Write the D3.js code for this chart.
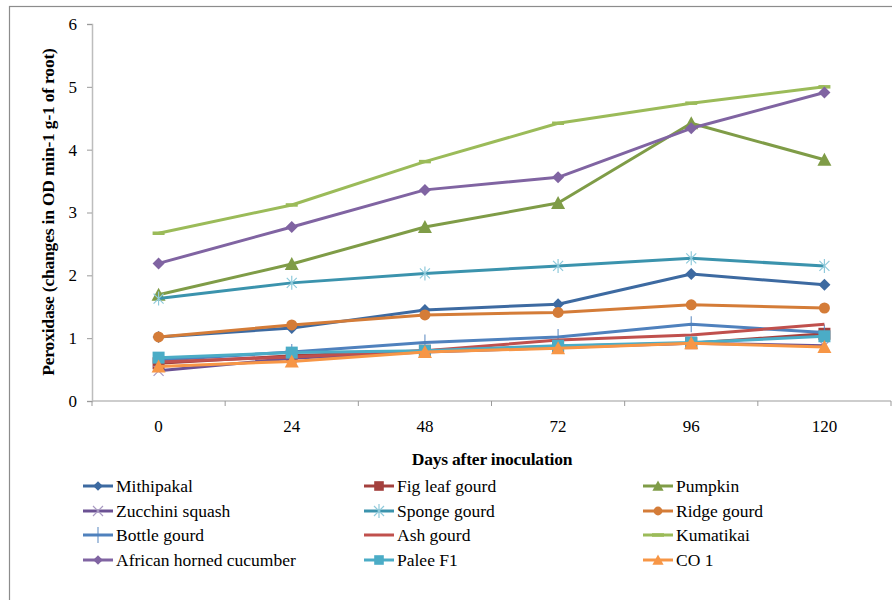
<!DOCTYPE html>
<html>
<head>
<meta charset="utf-8">
<script src="https://cdn.jsdelivr.net/npm/d3@7"></script>
<style>
  html, body { margin: 0; padding: 0; background: #fff; }
  svg { display: block; }
</style>
</head>
<body>
<svg id="chart" width="892" height="600"></svg>
<script>
// Days after inoculation (x categories)
const days = ["0", "24", "48", "72", "96", "120"];
const yTicks = [0, 1, 2, 3, 4, 5, 6];

// Peroxidase activity per cultivar
const mithipakal = [1.02, 1.16, 1.45, 1.54, 2.02, 1.85];
const figLeafGourd = [0.60, 0.72, 0.80, 0.87, 0.92, 1.07];
const pumpkin = [1.69, 2.18, 2.77, 3.15, 4.42, 3.84];
const zucchiniSquash = [0.48, 0.68, 0.78, 0.85, 0.92, 0.88];
const spongeGourd = [1.63, 1.88, 2.03, 2.15, 2.27, 2.15];
const ridgeGourd = [1.02, 1.21, 1.37, 1.41, 1.53, 1.48];
const bottleGourd = [0.65, 0.78, 0.93, 1.02, 1.22, 1.09];
const ashGourd = [0.62, 0.70, 0.80, 0.97, 1.05, 1.22];
const kumatikai = [2.67, 3.12, 3.81, 4.42, 4.74, 5.00];
const africanHornedCucumber = [2.19, 2.77, 3.36, 3.56, 4.34, 4.91];
const paleeF1 = [0.69, 0.77, 0.80, 0.88, 0.93, 1.03];
const co1 = [0.55, 0.63, 0.78, 0.84, 0.92, 0.86];

const seriesNames = ["Mithipakal", "Fig leaf gourd", "Pumpkin", "Zucchini squash",
  "Sponge gourd", "Ridge gourd", "Bottle gourd", "Ash gourd", "Kumatikai",
  "African horned cucumber", "Palee F1", "CO 1"];
const seriesValues = [mithipakal, figLeafGourd, pumpkin, zucchiniSquash, spongeGourd,
  ridgeGourd, bottleGourd, ashGourd, kumatikai, africanHornedCucumber, paleeF1, co1];
const seriesColors = ["#3d6aa1", "#a4403d", "#7f9c47", "#6b5193", "#3b93ad", "#d47c38",
  "#4f81bd", "#c0504d", "#9bbb59", "#8064a2", "#4bacc6", "#f79646"];
const seriesMarkers = ["diamond", "square", "triangle", "x", "star", "circle",
  "plus", "none", "dash", "diamond", "square", "triangle"];

const series = seriesNames.map((name, i) => ({
  name, values: seriesValues[i], color: seriesColors[i], marker: seriesMarkers[i]
}));

const svg = d3.select("#chart");
const font = "Liberation Serif";

// outer chart frame
svg.append("rect").attr("x", 9.5).attr("y", 6.5).attr("width", 900).attr("height", 610)
  .attr("fill", "none").attr("stroke", "#8c8c8c").attr("stroke-width", 1.2);

const plotLeft = 92, plotRight = 891, plotTop = 24, plotBottom = 401;

const x = d3.scaleBand().domain(days).range([plotLeft, plotRight]).padding(0);
const y = d3.scaleLinear().domain([0, 6]).range([plotBottom, plotTop]);

// y axis
const yAxis = svg.append("g").attr("transform", `translate(${plotLeft},0)`)
  .call(d3.axisLeft(y).tickValues(yTicks).tickSize(5).tickPadding(10).tickFormat(d3.format("d")));
yAxis.attr("font-family", font);
yAxis.select(".domain").attr("stroke", "#bdbdbd").attr("stroke-width", 1.5);
yAxis.selectAll(".tick line").attr("stroke", "#9a9a9a");
yAxis.selectAll("text").attr("font-family", font).attr("font-size", 17).attr("fill", "#000");

// x axis with ticks on category boundaries
const xAxisG = svg.append("g").attr("transform", `translate(0,${plotBottom})`);
xAxisG.append("line").attr("x1", plotLeft).attr("x2", plotRight).attr("y1", 0).attr("y2", 0)
  .attr("stroke", "#bdbdbd").attr("stroke-width", 1.5);
const boundaries = days.map(d => x(d)).concat([x(days[days.length - 1]) + x.bandwidth()]);
xAxisG.selectAll("line.b").data(boundaries).join("line").attr("class", "b")
  .attr("x1", d => d).attr("x2", d => d).attr("y1", 0).attr("y2", 5)
  .attr("stroke", "#9a9a9a");
xAxisG.selectAll("text").data(days).join("text")
  .attr("x", d => x(d) + x.bandwidth() / 2).attr("y", 31)
  .attr("text-anchor", "middle").attr("font-family", font).attr("font-size", 17)
  .text(d => d);

// axis titles
svg.append("text").attr("x", 492).attr("y", 465).attr("text-anchor", "middle")
  .attr("font-family", font).attr("font-size", 17.5).attr("font-weight", "bold")
  .attr("letter-spacing", -0.2)
  .text("Days after inoculation");
svg.append("text").attr("transform", "translate(54,212) rotate(-90)")
  .attr("text-anchor", "middle").attr("font-family", font).attr("font-size", 17.5)
  .attr("font-weight", "bold").attr("letter-spacing", -0.2)
  .text("Peroxidase (changes in OD min-1 g-1 of root)");

function drawMarker(g, type, color, cx, cy, scale) {
  const s = scale || 1;
  switch (type) {
    case "diamond":
      g.append("path").attr("d", `M${cx},${cy - 6 * s}L${cx + 6 * s},${cy}L${cx},${cy + 6 * s}L${cx - 6 * s},${cy}Z`)
        .attr("fill", color);
      break;
    case "square":
      g.append("rect").attr("x", cx - 6 * s).attr("y", cy - 6 * s)
        .attr("width", 12 * s).attr("height", 12 * s).attr("fill", color);
      break;
    case "triangle":
      g.append("path").attr("d", `M${cx},${cy - 7 * s}L${cx + 7 * s},${cy + 6 * s}L${cx - 7 * s},${cy + 6 * s}Z`)
        .attr("fill", color);
      break;
    case "circle":
      g.append("circle").attr("cx", cx).attr("cy", cy).attr("r", 5.5 * s).attr("fill", color);
      break;
    case "x":
      g.append("path").attr("d", `M${cx - 5},${cy - 5}L${cx + 5},${cy + 5}M${cx - 5},${cy + 5}L${cx + 5},${cy - 5}`)
        .attr("stroke", "#a99ac2").attr("stroke-width", 1.2).attr("fill", "none");
      break;
    case "star":
      g.append("path").attr("d", `M${cx - 5},${cy - 5}L${cx + 5},${cy + 5}M${cx - 5},${cy + 5}L${cx + 5},${cy - 5}M${cx},${cy - 7}L${cx},${cy + 7}`)
        .attr("stroke", "#8fcadb").attr("stroke-width", 1.2).attr("fill", "none");
      break;
    case "plus":
      g.append("path").attr("d", `M${cx},${cy - 8}L${cx},${cy + 8}`)
        .attr("stroke", color).attr("stroke-width", 1.2).attr("opacity", 0.8).attr("fill", "none");
      break;
    case "dash":
      g.append("path").attr("d", `M${cx - 6},${cy}L${cx + 6},${cy}`)
        .attr("stroke", color).attr("stroke-width", 3.5).attr("fill", "none");
      break;
  }
}

// data lines and markers
const cx = d => x(d) + x.bandwidth() / 2;
const line = d3.line().x((v, i) => cx(days[i])).y(v => y(v));
const plot = svg.append("g");
series.forEach(s => {
  const g = plot.append("g");
  g.append("path").attr("d", line(s.values)).attr("fill", "none")
    .attr("stroke", s.color).attr("stroke-width", 3).attr("stroke-linejoin", "round");
  s.values.forEach((v, i) => drawMarker(g, s.marker, s.color, cx(days[i]), y(v)));
});

// legend, three columns
const legendCols = [83, 364, 643];
const legendRows = [486, 511, 535, 560];
const legend = svg.append("g");
series.forEach((s, i) => {
  const lx = legendCols[i % 3], ly = legendRows[Math.floor(i / 3)];
  const g = legend.append("g");
  g.append("line").attr("x1", lx).attr("x2", lx + 30).attr("y1", ly).attr("y2", ly)
    .attr("stroke", s.color).attr("stroke-width", 3);
  drawMarker(g, s.marker, s.color, lx + 15, ly, 0.8);
  g.append("text").attr("x", lx + 33).attr("y", ly + 6)
    .attr("font-family", font).attr("font-size", 17.5).text(s.name);
});
</script>
</body>
</html>
